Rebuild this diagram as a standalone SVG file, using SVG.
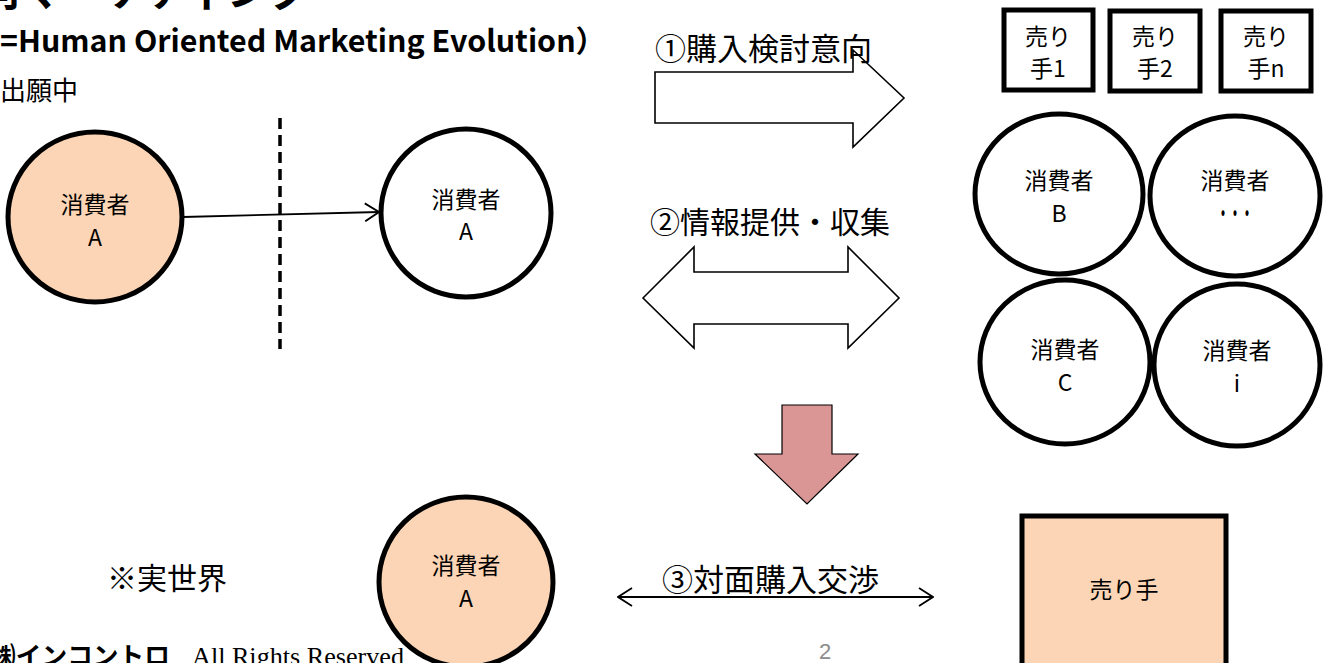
<svg xmlns="http://www.w3.org/2000/svg" width="1325" height="663" viewBox="0 0 1325 663">
<style>
  .jp { font-family: "Noto Sans CJK JP", "Liberation Sans", sans-serif; fill: #000; }
  .node { stroke: #000; stroke-width: 5; }
  .peach { fill: #FBD5B5; }
  .white { fill: #FFFFFF; }
  .lbl { font-family: "Noto Sans CJK JP", "Liberation Sans", sans-serif; font-size: 23px; text-anchor: middle; fill: #000; }
  .blk { fill: #FFFFFF; stroke: #000; stroke-width: 1.6; stroke-linejoin: miter; }
  .big { font-family: "Noto Sans CJK JP", "Liberation Sans", sans-serif; font-size: 30px; fill: #000; }
</style>
<defs>
  <marker id="open" viewBox="0 0 16 20" refX="15" refY="10" markerWidth="16" markerHeight="20" markerUnits="userSpaceOnUse" orient="auto-start-reverse">
    <path d="M1,1 L15,10 L1,19" fill="none" stroke="#000" stroke-width="1.8"/>
  </marker>
</defs>
<rect x="0" y="0" width="1325" height="663" fill="#FFFFFF"/>

<!-- titles -->
<g id="titles">
  <text class="jp" x="-22" y="6" font-size="42" font-weight="bold">向マーケティング</text>
  <text class="jp" x="0" y="52" font-size="30" font-weight="bold" textLength="606" lengthAdjust="spacingAndGlyphs">=Human Oriented Marketing Evolution）</text>
  <text class="jp" x="0" y="100" font-size="26">出願中</text>
</g>

<!-- dashed divider -->
<line id="divider" x1="280" y1="118" x2="280" y2="349" stroke="#000" stroke-width="3.5" stroke-dasharray="11,6"/>

<!-- connectors -->
<g id="connectors">
  <line x1="183" y1="217" x2="379" y2="212" stroke="#000" stroke-width="1.8" marker-end="url(#open)"/>
  <polygon class="blk" points="655,72 853,72 853,50 904,98 853,147 853,123 655,123"/>
  <polygon class="blk" points="643,298 694,247 694,272 848,272 848,247 899,298 848,348 848,324 694,324 694,348"/>
  <polygon points="782,405 832,405 832,454 858,454 807,504 755,454 782,454" fill="#D99694" stroke="#000" stroke-width="1.2"/>
  <line x1="618" y1="597" x2="933" y2="597" stroke="#000" stroke-width="1.8" marker-start="url(#open)" marker-end="url(#open)"/>
</g>

<!-- connector labels -->
<g id="labels">
  <text class="jp" x="655" y="60" font-size="31">①購入検討意向</text>
  <text class="big" x="650" y="233">②情報提供・収集</text>
  <text class="jp" x="662" y="591" font-size="31">③対面購入交渉</text>
  <text class="big" x="107" y="589">※実世界</text>
</g>

<g id="consumerA-left">
  <ellipse class="node peach" cx="95" cy="217" rx="87" ry="85"/>
  <text class="lbl" x="95" y="213">消費者</text>
  <text class="lbl" x="95" y="246">A</text>
</g>

<g id="consumerA-online">
  <ellipse class="node white" cx="466" cy="213" rx="85" ry="84"/>
  <text class="lbl" x="466" y="208">消費者</text>
  <text class="lbl" x="466" y="240">A</text>
</g>

<g id="seller1">
  <rect class="node white" x="1004" y="10" width="89" height="80" stroke-width="4"/>
  <text class="lbl" x="1048" y="45" font-size="21">売り</text>
  <text class="lbl" x="1048" y="77" font-size="21">手1</text>
</g>
<g id="seller2">
  <rect class="node white" x="1110" y="11" width="90" height="80" stroke-width="4"/>
  <text class="lbl" x="1155" y="45" font-size="21">売り</text>
  <text class="lbl" x="1155" y="77" font-size="21">手2</text>
</g>
<g id="sellerN">
  <rect class="node white" x="1221" y="11" width="90" height="80" stroke-width="4"/>
  <text class="lbl" x="1266" y="45" font-size="21">売り</text>
  <text class="lbl" x="1266" y="77" font-size="21">手n</text>
</g>

<g id="consumerB">
  <ellipse class="node white" cx="1059" cy="194" rx="84" ry="80"/>
  <text class="lbl" x="1059" y="189">消費者</text>
  <text class="lbl" x="1059" y="222">B</text>
</g>
<g id="consumerEtc">
  <ellipse class="node white" cx="1235" cy="196" rx="85" ry="80"/>
  <text class="lbl" x="1235" y="189">消費者</text>
  <text class="lbl" x="1235" y="222" font-weight="bold" textLength="36" lengthAdjust="spacingAndGlyphs">・・・</text>
</g>
<g id="consumerC">
  <ellipse class="node white" cx="1065" cy="362" rx="85" ry="82"/>
  <text class="lbl" x="1065" y="358">消費者</text>
  <text class="lbl" x="1065" y="391">C</text>
</g>
<g id="consumerI">
  <ellipse class="node white" cx="1237" cy="365" rx="83" ry="81"/>
  <text class="lbl" x="1237" y="359">消費者</text>
  <text class="lbl" x="1237" y="392">i</text>
</g>

<g id="consumerA-real">
  <ellipse class="node peach" cx="466" cy="582" rx="87" ry="85"/>
  <text class="lbl" x="466" y="574">消費者</text>
  <text class="lbl" x="466" y="607">A</text>
</g>

<g id="seller-real">
  <rect class="node peach" x="1022" y="516" width="204" height="160"/>
  <text class="lbl" x="1124" y="598" font-size="24">売り手</text>
</g>

<g id="footer">
  <text class="jp" x="-10" y="665" font-size="25" font-weight="bold" textLength="180" lengthAdjust="spacingAndGlyphs">㈱インコントロ</text>
  <text x="192" y="665" font-family="Liberation Serif, serif" font-size="25" fill="#000" textLength="212" lengthAdjust="spacingAndGlyphs">All Rights Reserved</text>
  <text x="825" y="659" font-family="Liberation Sans, sans-serif" font-size="22" fill="#8C8C8C" text-anchor="middle">2</text>
</g>
</svg>
